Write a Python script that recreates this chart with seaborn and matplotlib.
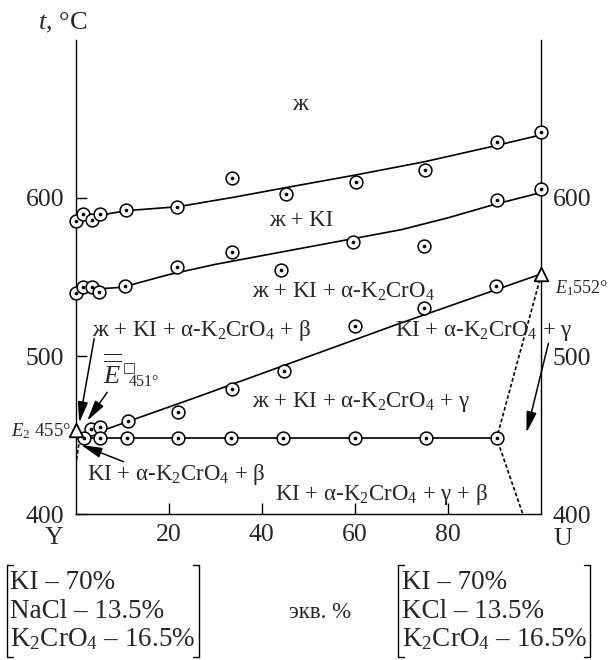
import numpy as np
import pandas as pd
import matplotlib
matplotlib.use("Agg")
import matplotlib.pyplot as plt
import seaborn as sns
from matplotlib.lines import Line2D

sns.set_theme(style="white")
plt.rcParams["font.family"] = ["Liberation Serif", "DejaVu Sans"]
plt.rcParams["mathtext.fontset"] = "custom"
plt.rcParams["mathtext.rm"] = "Liberation Serif"
plt.rcParams["mathtext.it"] = "Liberation Serif:italic"
plt.rcParams["mathtext.bf"] = "Liberation Serif:bold"

# ---- experimental points (x = equiv. %, t = °C) ----
liq_x = [0, 1.5, 3.5, 5.3, 10.8, 21.8, 33.6, 45.1, 60.1, 75, 90.4, 100]
liq_t = [585.6, 589.7, 586, 589.7, 592.2, 594.5, 612.9, 602.7, 610.3, 617.5, 635.6, 642]
ki_x = [0, 1.7, 3.6, 5.1, 10.6, 21.8, 33.6, 44.1, 59.6, 74.7, 90.4, 100]
ki_t = [540, 543.5, 543.5, 540.3, 544.3, 556.5, 566, 554.6, 572.2, 569.6, 598.5, 605.5]
cr_x = [3.3, 5.3, 11.2, 22.1, 33.5, 44.8, 60, 74.9, 90.2]
cr_t = [454, 454.9, 459, 464.7, 478.9, 490.5, 519.2, 530.6, 544.3]
sol_x = [1.8, 5.3, 11, 22.1, 33.4, 44.6, 60, 75.2, 90.4]
sol_t = [448, 448, 448, 448, 448, 448, 448, 448, 448]

# ---- drawn boundary lines ----
liq_line_x = [0, 11, 22, 34, 45, 60, 75, 90, 100]
liq_line_t = [586.5, 592, 594.5, 600.5, 606.5, 614.5, 623, 633, 640]
ki_line_x = [0, 10, 20, 30, 40, 50, 60, 70, 80, 90, 100]
ki_line_t = [541.5, 543.5, 551.5, 558, 563.5, 569, 574.5, 580, 587.5, 596, 603.5]
cr_line_x = [0, 5, 27, 69, 100]
cr_line_t = [449, 452, 475, 520, 552]
sol_line_x = [0, 90.4]
sol_line_t = [448, 448]
dot_r_x = [100, 90.4, 96]
dot_r_t = [552, 448, 400]
dot_l_x = [0.9, 0.1]
dot_l_t = [448, 432]

eut_x = [0, 100]
eut_t = [453, 552]

x_ticks = [20, 40, 60, 80]
y_ticks = [400, 500, 600]

pts = pd.DataFrame({
    "x": liq_x + ki_x + cr_x + sol_x,
    "t": liq_t + ki_t + cr_t + sol_t,
})

fig = plt.figure(figsize=(6.09, 6.6), dpi=100)
ax = fig.add_axes([0.124, 0.2212, 0.765, 0.7182])

for lx, lt in [(liq_line_x, liq_line_t), (ki_line_x, ki_line_t),
               (cr_line_x, cr_line_t), (sol_line_x, sol_line_t)]:
    sns.lineplot(x=lx, y=lt, sort=False, estimator=None, color="black",
                 lw=1.2, ax=ax)
for lx, lt in [(dot_r_x, dot_r_t), (dot_l_x, dot_l_t)]:
    sns.lineplot(x=lx, y=lt, sort=False, estimator=None, color="black",
                 lw=1.2, ax=ax, linestyle=(0, (2.2, 1.4)))

sns.scatterplot(data=pts, x="x", y="t", marker="o", s=85, color="white",
                edgecolor="black", linewidth=1.1, zorder=5, ax=ax, clip_on=False)
sns.scatterplot(data=pts, x="x", y="t", marker="o", s=7, color="black",
                edgecolor="black", linewidth=0, zorder=6, ax=ax, clip_on=False)
sns.scatterplot(x=eut_x, y=eut_t, marker="^", s=95, color="white",
                edgecolor="black", linewidth=1.3, zorder=7, ax=ax, clip_on=False)

ax.set_xlim(0, 100)
ax.set_ylim(400, 700)
ax.set_xlabel("")
ax.set_ylabel("")
ax.set_xticks(x_ticks)
ax.set_xticklabels([str(v) for v in x_ticks])
ax.set_yticks(y_ticks)
ax.set_yticklabels([str(v) for v in y_ticks])
ax.tick_params(axis="x", direction="in", length=8, width=1, color="black",
               labelsize=18.5, pad=7, bottom=True)
ax.tick_params(axis="y", direction="in", length=8, width=1, color="black",
               labelsize=18.5, pad=8, left=True, right=True, labelright=True)
for tk in ax.yaxis.get_major_ticks():
    tk.tick2line.set_visible(False)
for s in ["left", "right", "bottom"]:
    ax.spines[s].set_visible(True)
    ax.spines[s].set_color("black")
    ax.spines[s].set_linewidth(1.0)
ax.spines["top"].set_visible(False)

# axis labels / ends
ax.text(2.5, 711, "$t$, °C", fontsize=19, ha="right", va="center", clip_on=False)
ax.text(-4.6, 385, "Y", fontsize=18.5, ha="center", va="center", clip_on=False)
ax.text(104.6, 384, "U", fontsize=18.5, ha="center", va="center", clip_on=False)

# region labels
fs = 16.5
ax.text(48.2, 655.7, "ж", fontsize=fs, ha="center", va="baseline")
ax.text(48.5, 582.3, "ж + KI", fontsize=fs, ha="center", va="baseline")
ax.text(37.8, 536.9, "ж + KI + α-K$_2$CrO$_4$", fontsize=fs, ha="left", va="baseline")
ax.text(3.5, 512.9, "ж + KI + α-K$_2$CrO$_4$ + β", fontsize=fs, ha="left", va="baseline")
ax.text(68.6, 512.9, "KI + α-K$_2$CrO$_4$ + γ", fontsize=fs, ha="left", va="baseline",
        clip_on=False)
ax.text(37.8, 467.9, "ж + KI + α-K$_2$CrO$_4$ + γ", fontsize=fs, ha="left", va="baseline")
ax.text(2.4, 421.5, "KI + α-K$_2$CrO$_4$ + β", fontsize=fs, ha="left", va="baseline")
ax.text(42.9, 408.9, "KI + α-K$_2$CrO$_4$ + γ + β", fontsize=fs, ha="left", va="baseline")

# eutectic labels
ax.text(-1.0, 449.4, "$E_2$ 455°", fontsize=13.5, ha="right", va="baseline", clip_on=False)
ax.text(102.9, 539.7, "$E_1$552°", fontsize=13, ha="left", va="baseline", clip_on=False)
ax.text(5.9, 482.7, r"$\overline{\overline{E}}$", fontsize=19, ha="left", va="baseline")
ax.text(10.1, 493.2, "□", fontsize=10, ha="left", va="center",
        family=["DejaVu Sans"])
ax.text(11.5, 481.0, "451°", fontsize=11.5, ha="left", va="baseline")

# arrows
aprops = dict(arrowstyle="-|>,head_length=0.9,head_width=0.22", color="black",
              lw=1.1, mutation_scale=14, shrinkA=0, shrinkB=0)
for (tx, tt), (hx, ht) in [((4.0, 511), (0.8, 457.8)),
                           ((6.8, 477), (2.5, 459)),
                           ((10.3, 433.1), (1.2, 443.7)),
                           ((101.5, 508), (96.8, 451.5))]:
    ax.annotate("", xy=(hx, ht), xytext=(tx, tt), arrowprops=aprops,
                annotation_clip=False)

# composition boxes
W, H = 609.0, 660.0


def bracket(px, top, bot, direction):
    fx = px / W
    ft = 1 - top / H
    fb = 1 - bot / H
    d = direction * 6 / W
    fig.add_artist(Line2D([fx + d, fx, fx, fx + d], [ft, ft, fb, fb],
                          color="black", lw=1.0))


bracket(7, 565, 657, 1)
bracket(199, 565, 657, -1)
bracket(398, 565, 657, 1)
bracket(590, 565, 657, -1)

left_lines = ["KI – 70%", "NaCl – 13.5%", "K$_2$CrO$_4$ – 16.5%"]
right_lines = ["KI – 70%", "KCl – 13.5%", "K$_2$CrO$_4$ – 16.5%"]
baselines = [589, 618, 646]
for txt, b in zip(left_lines, baselines):
    fig.text(10 / W, 1 - b / H, txt, fontsize=19.5, ha="left", va="baseline")
for txt, b in zip(right_lines, baselines):
    fig.text(402 / W, 1 - b / H, txt, fontsize=19.5, ha="left", va="baseline")
fig.text(320 / W, 1 - 618 / H, "экв. %", fontsize=16.5, ha="center", va="baseline")

fig.savefig("out.png", dpi=100)
